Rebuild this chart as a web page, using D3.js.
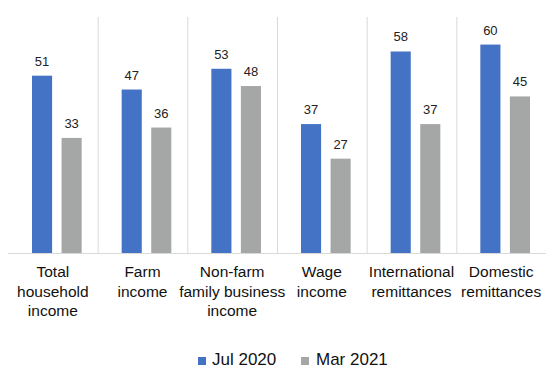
<!DOCTYPE html>
<html><head><meta charset="utf-8">
<script src="https://cdn.jsdelivr.net/npm/d3@7"></script>
<style>body{margin:0;background:#fff;} svg{display:block;}</style>
</head><body>
<script>
const categories = [["Total","household","income"],["Farm","income"],["Non-farm","family business","income"],["Wage","income"],["International","remittances"],["Domestic","remittances"]];
const seriesNames = ["Jul 2020","Mar 2021"];
const jul2020 = [51,47,53,37,58,60];
const mar2021 = [33,36,48,27,37,45];
const colors = ["#4472C4","#A5A7A7"];

const W=560,H=369;
const svg=d3.select("body").append("svg").attr("width",W).attr("height",H);
const font="'Liberation Sans', Arial, sans-serif";
const x=d3.scaleBand().domain(d3.range(categories.length)).range([8,546]).paddingInner(0).paddingOuter(0);
const x1=d3.scaleBand().domain([0,1]).range([24,x.bandwidth()-16]).paddingInner(0.32).paddingOuter(0);
const y=d3.scaleLinear().domain([0,70]).range([252,10]);
const baseY=253.5;

const seps=d3.range(1,categories.length);
svg.selectAll("line.sep").data(seps).enter().append("line")
 .attr("x1",d=>x(d)+0.5).attr("x2",d=>x(d)+0.5).attr("y1",17).attr("y2",baseY)
 .attr("stroke","#D9D9D9").attr("stroke-width",1);
const data=[jul2020,mar2021];
data.forEach((vals,s)=>{
  const g=svg.append("g");
  g.selectAll("rect").data(vals).enter().append("rect")
   .attr("x",(d,i)=>x(i)+x1(s)).attr("width",x1.bandwidth())
   .attr("y",d=>y(d)).attr("height",d=>baseY-y(d)).attr("fill",colors[s]);
  g.selectAll("text").data(vals).enter().append("text")
   .attr("x",(d,i)=>x(i)+x1(s)+x1.bandwidth()/2).attr("y",d=>y(d)-10)
   .attr("text-anchor","middle").attr("font-family",font).attr("font-size",13).attr("fill","#222")
   .text(d=>d);
});
svg.append("line").attr("x1",8).attr("x2",546).attr("y1",baseY).attr("y2",baseY).attr("stroke","#D9D9D9");

categories.forEach((lines,i)=>{
  const t=svg.append("text").attr("text-anchor","middle").attr("font-family",font).attr("font-size",15.5).attr("fill","#111");
  lines.forEach((l,k)=>t.append("tspan").attr("x",x(i)+x.bandwidth()/2).attr("y",277+k*19.5).text(l));
});

const leg=[{x:198,tx:212},{x:301,tx:316}];
seriesNames.forEach((n,s)=>{
  svg.append("rect").attr("x",leg[s].x).attr("y",357).attr("width",8).attr("height",8).attr("fill",colors[s]);
  svg.append("text").attr("x",leg[s].tx).attr("y",365).attr("font-family",font).attr("font-size",17).attr("fill","#111").text(n);
});
</script>
</body></html>
